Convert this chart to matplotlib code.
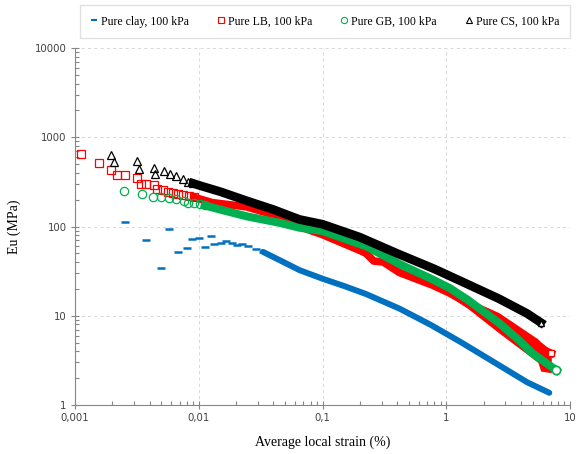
import matplotlib
matplotlib.use("Agg")
import matplotlib.pyplot as plt
from matplotlib.lines import Line2D

# tick positions / labels (comma decimals as in the original)
x_ticks = [0.001, 0.01, 0.1, 1, 10]
x_tick_labels = ["0,001", "0,01", "0,1", "1", "10"]
y_ticks = [1, 10, 100, 1000, 10000]
y_tick_labels = ["1", "10", "100", "1000", "10000"]

labels = ["Pure clay, 100 kPa", "Pure LB, 100 kPa", "Pure GB, 100 kPa", "Pure CS, 100 kPa"]

# Pure clay - scattered early readings, then dense curve
clay_sparse_x = [0.00253, 0.00374, 0.00491, 0.00573, 0.00686, 0.00805, 0.0089, 0.01005, 0.01124,
                 0.0125, 0.01328, 0.0150, 0.0167, 0.0185, 0.0205, 0.0225, 0.0250, 0.0290, 0.0330]
clay_sparse_y = [113, 70, 34, 93, 52, 58, 72, 75, 59, 79, 63, 65, 68, 66, 62, 63, 60, 56, 52]
clay_x = [0.033, 0.045, 0.065, 0.1, 0.15, 0.225, 0.42, 0.75, 1.3, 2.5, 4.5, 6.8]
clay_y = [52, 42, 32.5, 26, 21.5, 17.5, 12, 7.9, 5.1, 2.95, 1.8, 1.37]

# Pure LB
lb_sparse_x = [0.00111, 0.00157, 0.00194, 0.00217, 0.00253, 0.00315, 0.0034, 0.00374, 0.00436,
               0.00464, 0.00515, 0.00565, 0.0062, 0.0068, 0.0075, 0.0083, 0.0092]
lb_sparse_y = [652, 517, 425, 376, 376, 346, 298, 296, 289, 260, 256, 245, 238, 232, 228, 220, 212]
lb_x = [0.0092, 0.0129, 0.0244, 0.045, 0.065, 0.1, 0.2, 0.225, 0.26, 0.31, 0.418, 0.776, 1.06,
        1.5, 2.67, 4.0, 5.5, 7.06]
lb_y = [212, 185, 166, 129, 100, 81, 54, 50, 41, 40, 30.5, 22, 18, 13.8, 8.4, 5.6, 4.4, 3.8]
lb_band_x = [0.5, 0.776, 1.06, 1.5, 2.67, 4.0, 5.5, 5.8, 7.06]
lb_band_hi = [30, 24, 20, 15.5, 10.8, 7.4, 5.5, 5.1, 4.1]
lb_band_lo = [27, 21, 16.5, 12, 6.4, 4.2, 3.0, 2.4, 2.3]

# Pure GB
gb_sparse_x = [0.0025, 0.00345, 0.00423, 0.005, 0.00573, 0.00653, 0.00757, 0.00826, 0.00917, 0.0102, 0.0112]
gb_sparse_y = [247, 229, 212, 212, 208, 203, 194, 184, 184, 178, 172]
gb_x = [0.0112, 0.0129, 0.0244, 0.045, 0.065, 0.1, 0.225, 0.418, 0.776, 1.06, 1.5, 2.67, 3.88, 4.97, 7.76]
gb_y = [172, 163, 130, 110, 97, 89, 60, 38, 25.5, 20.5, 15, 8.3, 5.3, 3.8, 2.45]

# Pure CS
cs_sparse_x = [0.00194, 0.00207, 0.00315, 0.00326, 0.00436, 0.00447, 0.00522, 0.00591, 0.0066,
               0.00747, 0.0082, 0.009]
cs_sparse_y = [635, 531, 544, 436, 454, 386, 417, 383, 370, 337, 316, 304]
cs_x = [0.009, 0.01, 0.015, 0.025, 0.04, 0.065, 0.1, 0.2, 0.4, 0.8, 1.35, 2.67, 4.5, 5.8]
cs_y = [304, 290, 245, 192, 155, 120, 106, 76, 50, 33.5, 24, 15.5, 10.6, 8.4]

blue = "#0070C0"
red = "#FF0000"
green = "#00B050"
black = "#000000"

fig = plt.figure(figsize=(5.77, 4.54), dpi=100)
ax = fig.add_axes([75 / 577, 1 - 405 / 454, 495 / 577, 357 / 454])
ax.set_xscale("log")
ax.set_yscale("log")
ax.set_xlim(0.001, 10)
ax.set_ylim(1, 10000)

# clay
ax.plot(clay_sparse_x, clay_sparse_y, ls="none", marker="_", ms=6, mew=1.8, color=blue)
ax.plot(clay_x, clay_y, color=blue, lw=4.3, solid_capstyle="round")

# LB
ax.plot(lb_sparse_x, lb_sparse_y, ls="none", marker="s", ms=6, mfc="none", mew=0.9, color=red)
ax.fill_between(lb_band_x, lb_band_lo, lb_band_hi, color=red, lw=0)
ax.plot(lb_x, lb_y, color=red, lw=5.5)
ax.plot(lb_x[-1:], lb_y[-1:], ls="none", marker="s", ms=5, mfc="white", mec=red, mew=0.9)

# GB
ax.plot(gb_sparse_x, gb_sparse_y, ls="none", marker="o", ms=6, mfc="none", mew=0.9, color=green)
ax.plot(gb_x, gb_y, color=green, lw=5.8)
ax.plot(gb_x[-1:], gb_y[-1:], ls="none", marker="o", ms=6, mfc="white", mec=green, mew=1.2)

# CS
ax.plot(cs_sparse_x, cs_sparse_y, ls="none", marker="^", ms=6, mfc="none", mew=0.9, color=black)
ax.plot(cs_x, cs_y, color=black, lw=6.3)
ax.plot(cs_x[-1:], cs_y[-1:], ls="none", marker="^", ms=5, mfc="white", mec=black, mew=1.0)

ax.grid(True, which="major", ls=(0, (3, 3)), color="#d9d9d9", lw=0.75)
ax.set_axisbelow(True)
for s in ["top", "right"]:
    ax.spines[s].set_visible(False)
for s in ["left", "bottom"]:
    ax.spines[s].set_color("#868686")
    ax.spines[s].set_linewidth(0.8)

ax.set_xticks(x_ticks)
ax.set_xticklabels(x_tick_labels)
ax.set_yticks(y_ticks)
ax.set_yticklabels(y_tick_labels)
ax.tick_params(which="major", direction="inout", length=6, width=0.8, color="#868686",
               labelsize=7.3, labelcolor="#404040", pad=3)
ax.tick_params(which="minor", direction="in", length=3, width=0.8, color="#868686")
for t in ax.get_xticklabels() + ax.get_yticklabels():
    t.set_fontfamily("DejaVu Sans")

ax.set_xlabel("Average local strain (%)", fontfamily="Liberation Serif", fontsize=10, labelpad=9)
ax.set_ylabel("Eu (MPa)", fontfamily="Liberation Serif", fontsize=10, labelpad=10)

handles = [
    Line2D([], [], ls="none", marker="_", ms=5, mew=1.5, color=blue),
    Line2D([], [], ls="none", marker="s", ms=4.5, mfc="none", mew=0.8, color=red),
    Line2D([], [], ls="none", marker="o", ms=4.5, mfc="none", mew=0.8, color=green),
    Line2D([], [], ls="none", marker="^", ms=4.5, mfc="none", mew=0.8, color=black),
]
fig.legend(handles, labels, loc="center", ncol=4, mode="expand",
           bbox_to_anchor=(80 / 577, 1 - 38 / 454, 490 / 577, 33 / 454),
           prop={"family": "Liberation Serif", "size": 8.5}, frameon=True, fancybox=False,
           edgecolor="#d9d9d9", handlelength=0.6, handletextpad=0.3, borderpad=0.9,
           borderaxespad=0, columnspacing=1.0)

fig.savefig("out.png", dpi=100)
